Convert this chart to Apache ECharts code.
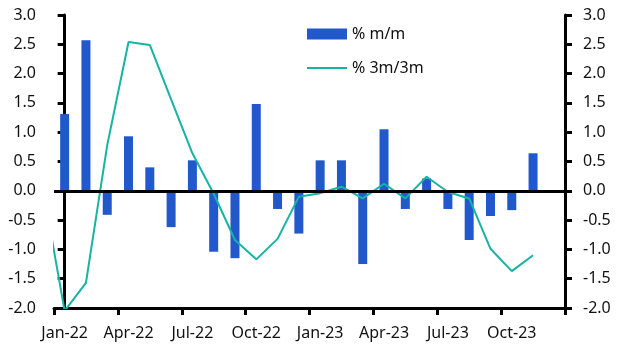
<!DOCTYPE html>
<html>
<head>
<meta charset="utf-8">
<script src="https://cdn.jsdelivr.net/npm/echarts@6/dist/echarts.min.js"></script>
<style>
  html, body { margin: 0; padding: 0; background: #fff; }
  #chart { width: 627px; height: 352px; }
</style>
</head>
<body>
<div id="chart"></div>
<script>
// 月份
var months = ['Jan-22', 'Feb-22', 'Mar-22', 'Apr-22', 'May-22', 'Jun-22', 'Jul-22', 'Aug-22', 'Sep-22', 'Oct-22', 'Nov-22', 'Dec-22',
    'Jan-23', 'Feb-23', 'Mar-23', 'Apr-23', 'May-23', 'Jun-23', 'Jul-23', 'Aug-23', 'Sep-23', 'Oct-23', 'Nov-23', 'Dec-23'];
// % m/m 柱状
var mom = [1.31, 2.57, -0.41, 0.93, 0.40, -0.62, 0.52, -1.04, -1.15, 1.48, -0.31, -0.73,
    0.52, 0.52, -1.25, 1.05, -0.31, 0.21, -0.31, -0.84, -0.43, -0.33, 0.64, null];
// % 3m/3m 折线 (前面多一个 Dec-21 的点, 被坐标轴裁掉)
var prevPoint = 0.0;
var threeM = [-2.05, -1.57, 0.78, 2.54, 2.49, 1.56, 0.64, -0.05, -0.84, -1.17, -0.82, -0.10,
    -0.04, 0.07, -0.13, 0.12, -0.13, 0.24, -0.02, -0.13, -0.99, -1.37, -1.10, null];
var yTicks = { min: -2, max: 3, step: 0.5 };

var linePoints = [[-1, prevPoint]];
threeM.forEach(function (v, i) {
    if (v !== null) linePoints.push([i, v]);
});

var font = 'Noto Sans';
var txt = '#111';
var teal = '#17B3A3';

function yAxisCfg(pos) {
    return {
        type: 'value',
        position: pos,
        min: yTicks.min,
        max: yTicks.max,
        interval: yTicks.step,
        axisLine: { show: true, lineStyle: { color: '#000', width: 3 } },
        axisTick: { show: true, inside: false, length: 7, lineStyle: { color: '#000', width: 3 } },
        axisLabel: {
            color: txt, fontFamily: font, fontSize: 16, margin: 18,
            formatter: function (v) { return v.toFixed(1); }
        },
        splitLine: { show: false }
    };
}

var chart = echarts.init(document.getElementById('chart'));
var option = {
    animation: false,
    grid: { left: 54, right: 62, top: 15, bottom: 44 },
    legend: {
        orient: 'vertical',
        left: 302,
        top: 21,
        itemWidth: 40,
        itemHeight: 11,
        itemGap: 18,
        textStyle: { color: txt, fontFamily: font, fontSize: 16 },
        data: [
            { name: '% m/m', icon: 'rect' },
            { name: '% 3m/3m', icon: 'path://M0 0 H40 V2.2 H0 Z' }
        ]
    },
    xAxis: [{
        type: 'category',
        data: months,
        boundaryGap: true,
        axisLine: { onZero: false, lineStyle: { color: '#000', width: 3 } },
        axisTick: { show: true, inside: false, interval: 2, length: 7, lineStyle: { color: '#000', width: 3 } },
        axisLabel: { interval: 2, color: txt, fontFamily: font, fontSize: 16, margin: 17 }
    }, {
        type: 'value',
        min: -0.5,
        max: 23.5,
        show: false
    }],
    yAxis: [yAxisCfg('left'), yAxisCfg('right')],
    series: [{
        name: '% m/m',
        type: 'bar',
        data: mom,
        barWidth: 9,
        itemStyle: { color: '#2158CC' },
        markLine: {
            silent: true,
            symbol: 'none',
            label: { show: false },
            lineStyle: { color: '#000', width: 3, type: 'solid' },
            data: [{ yAxis: 0 }]
        }
    }, {
        name: '% 3m/3m',
        type: 'line',
        xAxisIndex: 1,
        data: linePoints,
        symbol: 'none',
        clip: true,
        lineStyle: { color: teal, width: 2 },
        itemStyle: { color: teal }
    }]
};
chart.setOption(option);
</script>
</body>
</html>
